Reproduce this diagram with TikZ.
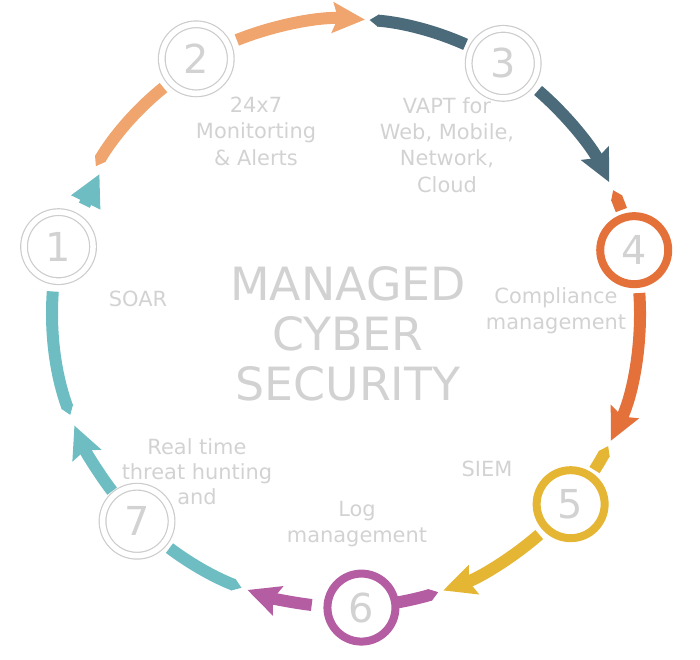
\documentclass[tikz,border=0pt]{standalone}
\usepackage{fontspec}
\setmainfont{DejaVu Sans}
\usetikzlibrary{arrows.meta}
\definecolor{tealc}{RGB}{109,189,195}
\definecolor{peachc}{RGB}{240,165,110}
\definecolor{slatec}{RGB}{75,107,123}
\definecolor{orangec}{RGB}{228,112,58}
\definecolor{yellowc}{RGB}{229,181,52}
\definecolor{purplec}{RGB}{180,93,162}
\definecolor{textc}{RGB}{210,210,210}
\tikzset{
    ringg/.style = {circle, draw=black!20, line width=1.2bp, double=white, double distance=5.5bp, fill=white, minimum size=69bp, inner sep=0pt, font=\fontsize{40}{40}\selectfont, text=textc},
    ringc/.style = {circle, draw=#1, line width=8bp, fill=white, minimum size=68bp, inner sep=0pt, font=\fontsize{40}{40}\selectfont, text=textc},
    labeln/.style = {align=center, inner sep=0pt, font=\fontsize{21}{26.5}\selectfont, text=textc},
    titlen/.style = {align=center, inner sep=0pt, font=\fontsize{46}{50}\selectfont, text=textc},
    arch/.style = {line width=12bp, draw=#1, -{Stealth[length=32bp,width=30bp,inset=5bp]}}, % head part
    archs/.style = {line width=12bp, draw=#1, -{Triangle[length=32bp,width=30bp]}}, % head only
    arct/.style = {line width=12bp, draw=#1, {Triangle[length=9bp,width=12bp]}-}, % tail part
}
\begin{document}
\begin{tikzpicture}[x=1bp,y=1bp]
\useasboundingbox (-346,-347) rectangle (354,313);
\coordinate (hub) at (0,0);

\node[ringg] at (167:295) (n1) {1};
\node[ringg] at (120.5:295) (n2) {2};
\node[ringg] at (57.8:295) (n3) {3};
\node[ringc=orangec] at (12.3:295) (n4) {4};
\node[ringc=yellowc] at (-40.4:295) (n5) {5};
\node[ringc=purplec] at (-87:295) (n6) {6};
\node[ringg] at (-135.1:295) (n7) {7};

\node[labeln] at (-208, 14) (soar) {SOAR};
\node[labeln] at (-90, 182) (monitor) {24x7\\Monitorting\\\& Alerts};
\node[labeln] at (101, 168) (vapt) {VAPT for\\Web, Mobile,\\Network,\\Cloud};
\node[labeln] at (210, 2) (compliance) {Compliance\\management};
\node[labeln] at (141, -156) (siem) {SIEM};
\node[labeln] at (11, -211) (logm) {Log\\management};
\node[labeln, font=\fontsize{21}{25}\selectfont] at (-149, -159) (hunting) {Real time\\threat hunting\\and};
\node[titlen] at (2, -21) (title) {MANAGED\\CYBER\\SECURITY};

\path (hub) ++(157.6:283) coordinate (h1a) (hub) ++(150.5:283) coordinate (h1b);
\draw[archs=tealc] (h1a) -- (h1b);
\draw[arct=peachc] (hub) ++(149.6:290) arc[start angle=149.6, end angle=129, radius=290bp];
\draw[arch=peachc] (hub) ++(111.8:294) arc[start angle=111.8, end angle=86.3, radius=294bp];
\draw[arct=slatec] (hub) ++(85.4:294) arc[start angle=85.4, end angle=66, radius=294bp];
\draw[arch=slatec] (hub) ++(49.2:294) arc[start angle=49.2, end angle=26.4, radius=294bp];
\draw[arct=orangec] (hub) ++(24.7:294) arc[start angle=24.7, end angle=20.5, radius=294bp];
\draw[arch=orangec] (hub) ++(3.9:294) arc[start angle=3.9, end angle=-25.8, radius=294bp];
\draw[arct=yellowc] (hub) ++(-26.9:294) arc[start angle=-26.9, end angle=-32.3, radius=294bp];
\draw[arch=yellowc] (hub) ++(-48.9:294) arc[start angle=-48.9, end angle=-70.7, radius=294bp];
\draw[arct=purplec] (hub) ++(-71.7:294) arc[start angle=-71.7, end angle=-79.8, radius=294bp];
\draw[arch=purplec] (hub) ++(-96.7:294) arc[start angle=-96.7, end angle=-109.6, radius=294bp];
\draw[arct=tealc] (hub) ++(-110.8:294) arc[start angle=-110.8, end angle=-126.9, radius=294bp];
\draw[arch=tealc] (hub) ++(-142.7:294) arc[start angle=-142.7, end angle=-157.5, radius=294bp];
\draw[arct=tealc] (hub) ++(-159.7:294) arc[start angle=-159.7, end angle=-184.2, radius=294bp];
\end{tikzpicture}
\end{document}
